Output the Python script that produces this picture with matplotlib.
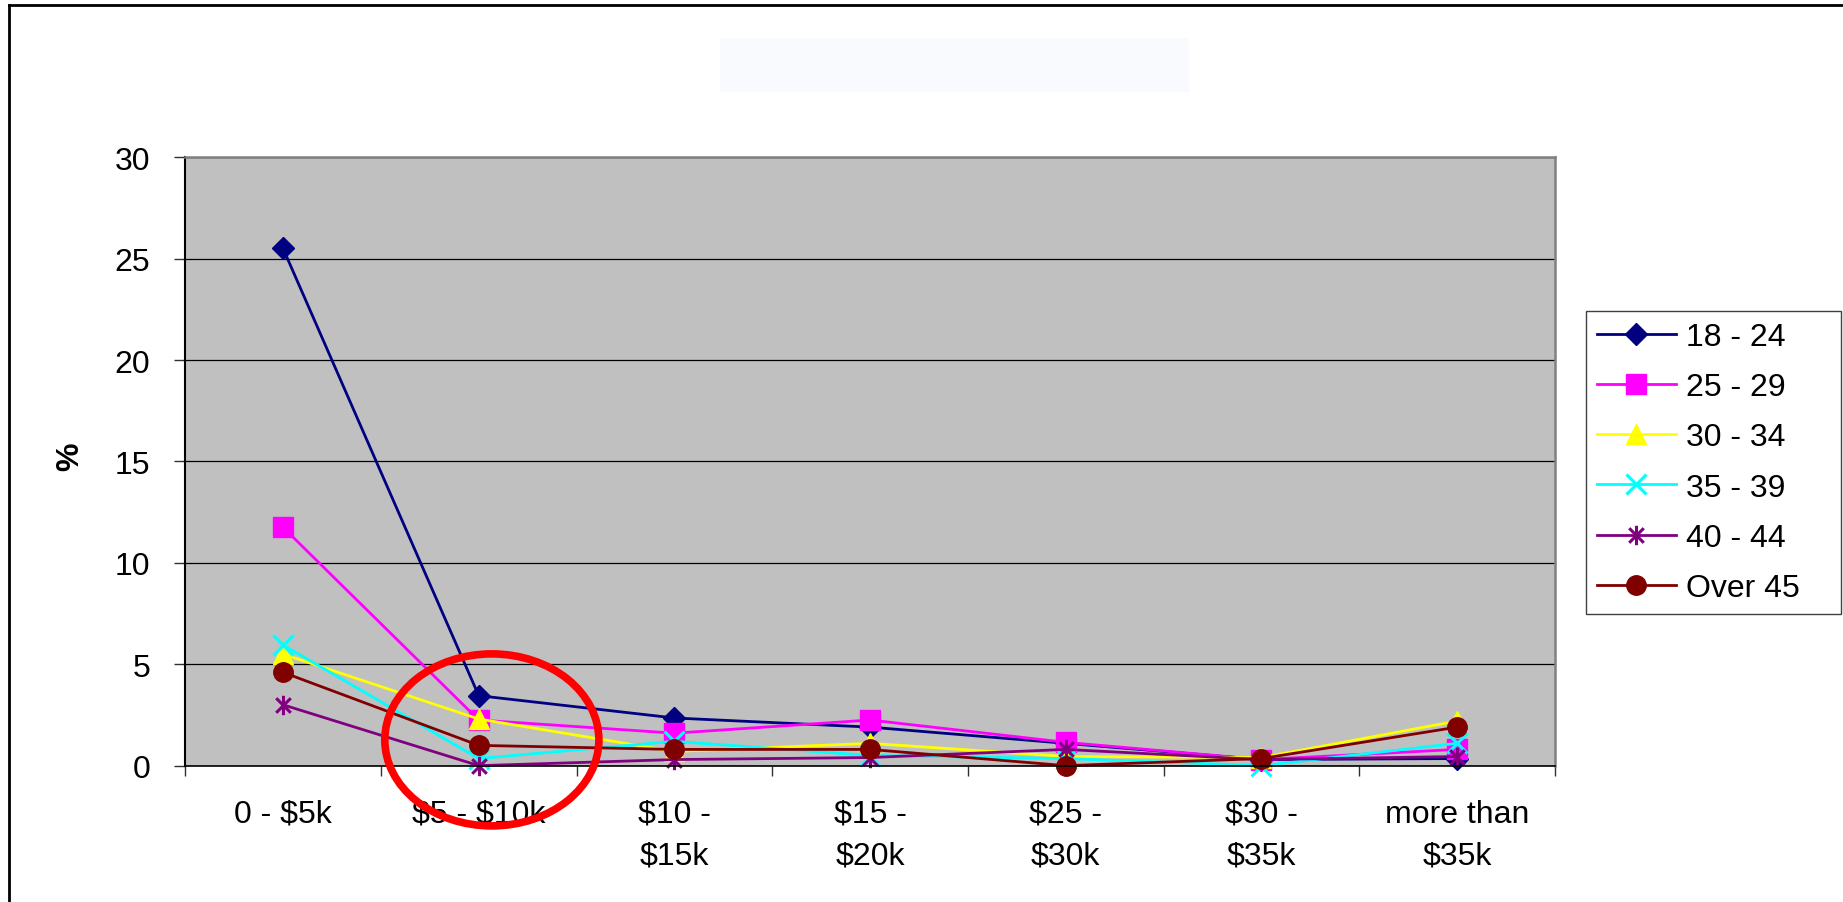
import matplotlib
matplotlib.use('Agg')
import matplotlib.pyplot as plt
from matplotlib.patches import Ellipse, Rectangle
from matplotlib.lines import Line2D
from matplotlib.path import Path
from matplotlib.ticker import FixedLocator

plt.rcParams['font.family'] = ['Liberation Sans', 'DejaVu Sans']

# Income brackets (x axis) -- dollar signs escaped so matplotlib does not read them as math
categories = ['0 - \\$5k', '\\$5 - \\$10k', '\\$10 -\n\\$15k', '\\$15 -\n\\$20k',
              '\\$25 -\n\\$30k', '\\$30 -\n\\$35k', 'more than\n\\$35k']

# Age groups (series)
age_groups = ['18 - 24', '25 - 29', '30 - 34', '35 - 39', '40 - 44', 'Over 45']

# Percent of respondents
age_18_24 = [25.5, 3.45, 2.35, 1.9, 1.1, 0.3, 0.35]
age_25_29 = [11.75, 2.25, 1.6, 2.25, 1.15, 0.3, 0.8]
age_30_34 = [5.5, 2.3, 0.7, 1.1, 0.45, 0.4, 2.2]
age_35_39 = [5.95, 0.35, 1.2, 0.5, 0.35, 0.0, 1.1]
age_40_44 = [3.0, 0.0, 0.3, 0.4, 0.8, 0.3, 0.45]
age_over_45 = [4.6, 1.0, 0.8, 0.8, 0.0, 0.35, 1.9]

series = [age_18_24, age_25_29, age_30_34, age_35_39, age_40_44, age_over_45]
colors = ['#000080', '#FF00FF', '#FFFF00', '#00FFFF', '#800080', '#800000']

# Excel-style asterisk: vertical bar plus an x
star = Path([(0, -1), (0, 1), (-0.75, -0.75), (0.75, 0.75), (-0.75, 0.75), (0.75, -0.75)],
            [Path.MOVETO, Path.LINETO] * 3)
markers = ['D', 's', '^', 'x', star, 'o']
marker_sizes = [11, 14, 14, 14, 14, 14]
edge_widths = [1, 1, 1, 2.2, 2.2, 1]

# highlighted bracket (red ring drawn around it)
highlight_index = 1

fig = plt.figure(figsize=(18.43, 9.03), dpi=100)
ax = fig.add_axes([0.1005, 0.1510, 0.7432, 0.6738])
ax.set_facecolor('#C0C0C0')

x = list(range(len(categories)))
for vals, label, color, marker, ms, mew in zip(series, age_groups, colors, markers,
                                              marker_sizes, edge_widths):
    ax.plot(x, vals, color=color, lw=2.0, marker=marker, ms=ms, mfc=color, mec=color,
            mew=mew, label=label, clip_on=False)

ax.set_xlim(-0.5, len(categories) - 0.5)
ax.set_ylim(0, 30)
ax.set_yticks(range(0, 31, 5))
ax.set_xticks(x)
ax.set_xticklabels(categories, linespacing=1.5)
ax.xaxis.set_minor_locator(FixedLocator([i - 0.5 for i in range(len(categories) + 1)]))
ax.tick_params(axis='x', which='major', length=0, pad=24, labelsize=23)
ax.tick_params(axis='x', which='minor', length=7, width=1, color='#303030')
ax.tick_params(axis='y', length=8, width=1, pad=17, labelsize=23, color='#303030')

ax.yaxis.grid(True, color='black', lw=0.9)
ax.set_axisbelow(True)

ax.spines['left'].set_color('black')
ax.spines['left'].set_linewidth(1.5)
ax.spines['bottom'].set_color('black')
ax.spines['bottom'].set_linewidth(1.2)
for side in ['top', 'right']:
    ax.spines[side].set_color('#808080')
    ax.spines[side].set_linewidth(1.8)

ax.set_ylabel('%', fontsize=23, fontweight='bold')
ax.yaxis.set_label_coords(-0.073, 0.51)

# red ring around the $5 - $10k bracket
ring = Ellipse((highlight_index + 0.067, 1.27), 1.094, 8.48, fill=False,
               edgecolor='#FF0000', lw=5.5, clip_on=False, zorder=10)
ax.add_patch(ring)

fig.legend(loc='center left', bbox_to_anchor=(0.8606, 0.32, 0.1384, 0.3333),
           mode='expand', fontsize=23, frameon=True, fancybox=False,
           edgecolor='#404040', framealpha=1, handlelength=2.45, handletextpad=0.33,
           labelspacing=0.63, borderpad=0.35, borderaxespad=0)

# empty title placeholder box
fig.add_artist(Rectangle((0.3907, 0.8973), 0.2545, 0.0591, transform=fig.transFigure,
                         facecolor='#F9FAFE', edgecolor='none'))

# chart-area border (top and left edges visible)
fig.add_artist(Line2D([8.7 / 1843, 1], [1 - 6 / 903, 1 - 6 / 903], color='black', lw=2,
                      transform=fig.transFigure))
fig.add_artist(Line2D([8.7 / 1843, 8.7 / 1843], [0, 1 - 6 / 903], color='black', lw=2,
                      transform=fig.transFigure))

fig.savefig('out.png', dpi=100, facecolor='white')
